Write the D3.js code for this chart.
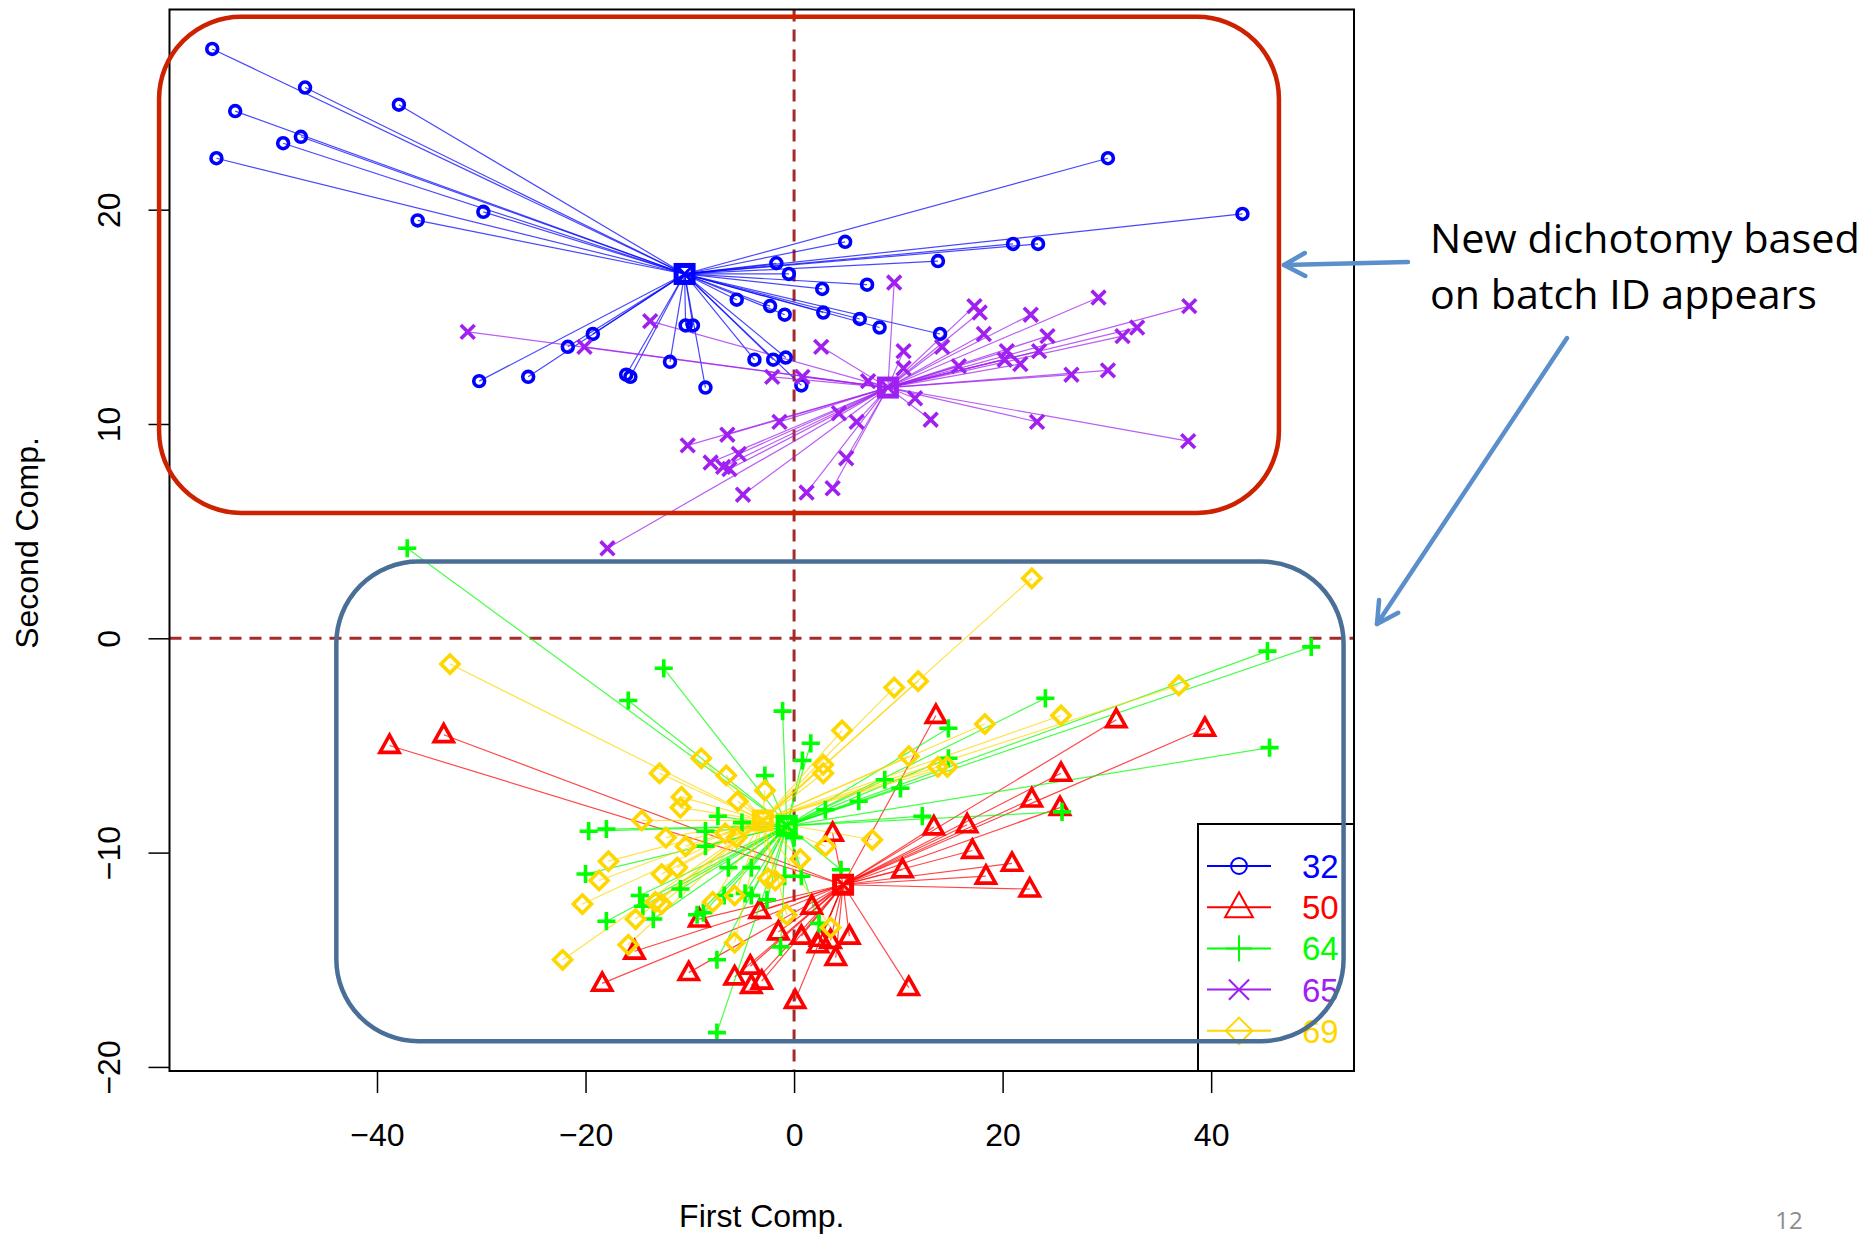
<!DOCTYPE html>
<html>
<head>
<meta charset="utf-8">
<script src="https://cdnjs.cloudflare.com/ajax/libs/d3/7.8.5/d3.min.js"></script>
<style>
  html, body { margin: 0; padding: 0; background: #ffffff; }
  svg { display: block; }
</style>
</head>
<body>
<svg id="chart" width="1872" height="1237"></svg>
<script>
// ---------------- DATA ----------------
const groupNames = ["32", "50", "64", "65", "69"];
const groupColors = ["#0000FF", "#FF0000", "#00FF00", "#A020F0", "#FFD700"];
const groupSymbols = ["circle", "triangle", "plus", "cross", "diamond"];

const xTicks = [-40, -20, 0, 20, 40];
const yTicks = [-20, -10, 0, 10, 20];
const xTitle = "First Comp.";
const yTitle = "Second Comp.";

// group centroids [x, y]
const centroid32 = [-10.5, 17.0];
const centroid50 = [4.7, -11.5];
const centroid64 = [-0.7, -8.75];
const centroid65 = [9.0, 11.7];
const centroid69 = [-3.0, -8.5];

// group members [x, y]
const points32 = [
  [-55.8,27.5],[-46.9,25.7],[-37.9,24.9],[-53.6,24.6],[-47.3,23.4],[-49.0,23.1],[-55.4,22.4],
  [-29.8,19.9],[-36.1,19.5],[-19.3,14.2],[-21.7,13.6],[-30.2,12.0],[-25.5,12.2],[-16.1,12.3],
  [-15.7,12.2],[4.9,18.5],[21.0,18.4],[-1.7,17.5],[13.8,17.6],[-0.5,17.0],[2.7,16.3],[7.0,16.5],
  [-5.5,15.8],[-2.3,15.5],[-0.9,15.1],[2.8,15.2],[6.3,14.9],[8.2,14.5],[14.0,14.2],[-10.4,14.6],
  [-9.7,14.6],[-11.9,12.9],[-8.5,11.7],[-3.8,13.0],[-2.0,13.0],[-0.8,13.1],[0.7,11.8],
  [30.1,22.4],[43.0,19.8],[23.4,18.4]
];
const points50 = [
  [-38.8,-5.0],[-33.6,-4.5],[-9.1,-13.1],[-15.3,-14.6],[-18.4,-16.1],[-10.1,-15.6],[-5.7,-15.8],
  [3.7,-9.1],[13.4,-8.8],[16.6,-8.7],[17.1,-9.9],[10.4,-10.8],[1.7,-12.5],[-3.3,-12.7],[-1.5,-13.7],
  [0.7,-13.9],[2.5,-14.0],[3.5,-14.1],[5.3,-13.9],[2.3,-14.3],[4.0,-14.9],[-4.2,-15.3],[-4.1,-16.2],
  [-3.1,-16.0],[0.1,-16.9],[11.0,-16.3],[13.6,-3.6],[30.9,-3.8],[39.4,-4.2],[25.6,-6.3],[22.8,-7.5],
  [25.5,-7.9],[20.9,-10.5],[18.4,-11.1],[22.6,-11.7]
];
const points64 = [
  [-37.1,4.2],[-12.5,-1.4],[-15.9,-2.9],[-19.7,-9.0],[-18.0,-8.9],[-7.3,-8.3],[-5.0,-8.6],[-8.5,-9.0],
  [-8.5,-9.7],[-20.0,-11.0],[-6.3,-10.7],[-10.9,-11.7],[-14.8,-12.0],[-14.5,-12.5],[-13.5,-13.1],
  [-18.0,-13.2],[-6.7,-12.0],[-4.7,-11.9],[-9.3,-12.9],[-8.7,-12.8],[-7.4,-15.0],[-7.4,-18.4],
  [1.6,-4.9],[0.8,-5.7],[-2.8,-6.4],[14.8,-4.2],[14.8,-5.6],[8.7,-6.6],[10.2,-7.0],[6.2,-7.6],
  [3.0,-8.0],[12.3,-8.3],[0.0,-9.3],[4.5,-10.8],[-0.9,-11.1],[0.7,-11.1],[-4.1,-10.7],[-4.1,-12.0],
  [-2.6,-12.2],[2.4,-13.3],[-1.3,-14.4],[45.4,-0.6],[49.6,-0.4],[24.1,-2.8],[45.6,-5.1],[25.7,-8.1],
  [-1.1,-3.4]
];
const points65 = [
  [-31.3,14.3],[-20.1,13.6],[-13.8,14.8],[9.6,16.6],[17.3,15.5],[17.8,15.2],[18.2,14.2],[2.6,13.6],
  [10.5,13.4],[14.2,13.6],[10.5,12.6],[15.8,12.7],[20.4,13.4],[20.2,13.0],[-2.1,12.2],[0.8,12.2],
  [7.1,12.0],[11.6,11.2],[13.1,10.2],[4.3,10.5],[6.0,10.1],[-1.4,10.1],[-6.4,9.5],[-10.2,9.0],
  [-5.3,8.6],[-8.0,8.2],[-6.8,8.0],[-6.2,7.9],[5.0,8.4],[3.7,7.0],[1.2,6.8],[-4.9,6.7],[-17.9,4.2],
  [22.7,15.1],[29.2,15.9],[37.9,15.5],[24.3,14.1],[32.9,14.5],[31.5,14.1],[23.5,13.4],[21.7,12.8],
  [26.6,12.3],[30.1,12.5],[23.3,10.1],[37.8,9.2]
];
const points69 = [
  [-33.0,-1.2],[-12.9,-6.3],[-8.9,-5.6],[-6.5,-6.4],[-5.4,-7.6],[-10.8,-7.4],[-10.9,-7.9],[-14.6,-8.5],
  [-12.3,-9.3],[-10.4,-9.7],[-6.6,-9.1],[-17.8,-10.4],[-11.2,-10.7],[-18.7,-11.3],[-12.7,-11.0],
  [-20.3,-12.4],[-13.3,-12.3],[-12.7,-12.4],[-15.2,-13.1],[-7.8,-12.3],[-5.7,-12.0],[-15.9,-14.3],
  [-22.2,-15.0],[-5.7,-14.2],[4.6,-4.3],[11.0,-5.5],[2.8,-5.9],[2.8,-6.3],[13.8,-6.0],[14.7,-6.0],
  [-2.8,-7.1],[7.5,-9.4],[3.0,-9.7],[0.6,-10.3],[-2.5,-11.2],[-1.8,-11.3],[-0.7,-12.9],[3.5,-13.5],
  [9.6,-2.3],[11.9,-2.0],[22.8,2.8],[36.9,-2.2],[25.6,-3.6],[18.3,-4.0],[-5.5,-9.3]
];

// highlight boxes in data units: [xmin, xmax, ymin, ymax]
const redBox = [-60.9, 46.5, 5.85, 29.0];
const blueBox = [-43.9, 52.7, -18.8, 3.58];

const noteLines = ["New dichotomy based", "on batch ID appears"];
const pageNumber = "12";

// ---------------- LAYOUT ----------------
const plot = { left: 169.5, right: 1354, top: 9.5, bottom: 1071 };
const svg = d3.select("#chart");
const x = d3.scaleLinear().domain([-59.9, 53.7]).range([plot.left, plot.right]);
const y = d3.scaleLinear().domain([-20.19, 29.34]).range([plot.bottom, plot.top]);
const fmt = d => (d < 0 ? "\u2212" + Math.abs(d) : String(d));
const FONT = "'Liberation Sans', Arial, Helvetica, sans-serif";

const groups = [
  { name: groupNames[0], color: groupColors[0], sym: groupSymbols[0], c: centroid32, pts: points32 },
  { name: groupNames[1], color: groupColors[1], sym: groupSymbols[1], c: centroid50, pts: points50 },
  { name: groupNames[2], color: groupColors[2], sym: groupSymbols[2], c: centroid64, pts: points64 },
  { name: groupNames[3], color: groupColors[3], sym: groupSymbols[3], c: centroid65, pts: points65 },
  { name: groupNames[4], color: groupColors[4], sym: groupSymbols[4], c: centroid69, pts: points69 }
];

function symPath(sym, s) {
  switch (sym) {
    case "triangle": return `M0,${-0.62*s}L${0.58*s},${0.42*s}L${-0.58*s},${0.42*s}Z`;
    case "plus": return `M${-0.55*s},0H${0.55*s}M0,${-0.55*s}V${0.55*s}`;
    case "cross": return `M${-0.42*s},${-0.42*s}L${0.42*s},${0.42*s}M${-0.42*s},${0.42*s}L${0.42*s},${-0.42*s}`;
    case "diamond": return `M0,${-0.55*s}L${0.55*s},0L0,${0.55*s}L${-0.55*s},0Z`;
    default: return null;
  }
}
function drawSymbol(sel, sym, color, s, sw) {
  if (sym === "circle") {
    sel.append("circle").attr("r", 0.33 * s).attr("fill", "none")
      .attr("stroke", color).attr("stroke-width", sw);
  } else {
    sel.append("path").attr("d", symPath(sym, s)).attr("fill", "none")
      .attr("stroke", color).attr("stroke-width", sw).attr("stroke-linejoin", "miter");
  }
}

// clip to plot region
svg.append("defs").append("clipPath").attr("id", "plotclip")
  .append("rect").attr("x", plot.left).attr("y", plot.top)
  .attr("width", plot.right - plot.left).attr("height", plot.bottom - plot.top);

const gPlot = svg.append("g").attr("clip-path", "url(#plotclip)");

// reference dashed lines
gPlot.append("line").attr("x1", x(0)).attr("x2", x(0)).attr("y1", plot.top).attr("y2", plot.bottom)
  .attr("stroke", "#A52A2A").attr("stroke-width", 3).attr("stroke-dasharray", "12,8");
gPlot.append("line").attr("x1", plot.left).attr("x2", plot.right).attr("y1", y(0)).attr("y2", y(0))
  .attr("stroke", "#A52A2A").attr("stroke-width", 3).attr("stroke-dasharray", "12,8");

// star lines + points per group
groups.forEach(g => {
  const gg = gPlot.append("g");
  gg.selectAll("line.star").data(g.pts).enter().append("line")
    .attr("x1", x(g.c[0])).attr("y1", y(g.c[1]))
    .attr("x2", d => x(d[0])).attr("y2", d => y(d[1]))
    .attr("stroke", g.color).attr("stroke-width", 1.2).attr("stroke-opacity", 0.72);
});
groups.forEach(g => {
  const gg = gPlot.append("g");
  gg.selectAll("g.pt").data(g.pts).enter().append("g")
    .attr("transform", d => `translate(${x(d[0])},${y(d[1])})`)
    .each(function () { drawSymbol(d3.select(this), g.sym, g.color, 16.5, 3.6); });
});
// centroids (square with diagonals)
groups.forEach(g => {
  const cg = gPlot.append("g").attr("transform", `translate(${x(g.c[0])},${y(g.c[1])})`);
  const h = 8.5;
  cg.append("rect").attr("x", -h).attr("y", -h).attr("width", 2*h).attr("height", 2*h)
    .attr("fill", "none").attr("stroke", g.color).attr("stroke-width", 5);
  cg.append("path").attr("d", `M${-h},${-h}L${h},${h}M${-h},${h}L${h},${-h}`)
    .attr("stroke", g.color).attr("stroke-width", 3);
});

// frame
svg.append("rect").attr("x", plot.left).attr("y", plot.top)
  .attr("width", plot.right - plot.left).attr("height", plot.bottom - plot.top)
  .attr("fill", "none").attr("stroke", "#000").attr("stroke-width", 2);

// axes
const xAxis = svg.append("g").attr("transform", `translate(0,${plot.bottom})`)
  .call(d3.axisBottom(x).tickValues(xTicks).tickFormat(fmt).tickSize(22).tickPadding(30));
xAxis.select(".domain").remove();
xAxis.selectAll(".tick line").attr("stroke", "#000").attr("stroke-width", 1.5);
xAxis.selectAll(".tick text").attr("font-family", FONT).attr("font-size", 32).attr("fill", "#000");

const yAxis = svg.append("g").attr("transform", `translate(${plot.left},0)`)
  .call(d3.axisLeft(y).tickValues(yTicks).tickFormat(fmt).tickSize(21));
yAxis.select(".domain").remove();
yAxis.selectAll(".tick line").attr("stroke", "#000").attr("stroke-width", 1.5);
yAxis.selectAll(".tick text")
  .attr("x", null).attr("dy", null).attr("y", null)
  .attr("text-anchor", "middle")
  .attr("transform", "translate(-49.5,0) rotate(-90)")
  .attr("font-family", FONT).attr("font-size", 32).attr("fill", "#000");

svg.append("text").attr("x", (plot.left + plot.right) / 2).attr("y", 1227)
  .attr("text-anchor", "middle").attr("font-family", FONT).attr("font-size", 32)
  .text(xTitle);
svg.append("text").attr("transform", "translate(37.5,543) rotate(-90)")
  .attr("text-anchor", "middle").attr("font-family", FONT).attr("font-size", 32)
  .text(yTitle);

// legend
const lg = svg.append("g");
lg.append("rect").attr("x", 1198).attr("y", 824).attr("width", plot.right - 1198)
  .attr("height", plot.bottom - 824).attr("fill", "#fff").attr("stroke", "#000").attr("stroke-width", 2);
groups.forEach((g, i) => {
  const yy = 866 + i * 41.2;
  lg.append("line").attr("x1", 1207).attr("x2", 1271).attr("y1", yy).attr("y2", yy)
    .attr("stroke", g.color).attr("stroke-width", 2);
  const sg = lg.append("g").attr("transform", `translate(1239,${yy})`);
  drawSymbol(sg, g.sym, g.color, 24, 2);
  lg.append("text").attr("x", 1302).attr("y", yy + 12).attr("font-family", FONT)
    .attr("font-size", 33).attr("fill", g.color).text(g.name);
});

// highlight rounded boxes
function roundBox(b, color) {
  svg.append("rect")
    .attr("x", x(b[0])).attr("y", y(b[3]))
    .attr("width", x(b[1]) - x(b[0])).attr("height", y(b[2]) - y(b[3]))
    .attr("rx", 82).attr("ry", 82)
    .attr("fill", "none").attr("stroke", color).attr("stroke-width", 4.5);
}
roundBox(redBox, "#CC2200");
roundBox(blueBox, "#4A6F97");

// annotation text
const NOTEFONT = "'Open Sans', 'Noto Sans', sans-serif";
const t1 = svg.append("text").attr("x", 1430).attr("y", 253).attr("font-family", NOTEFONT)
  .attr("font-size", 41).attr("fill", "#000").text(noteLines[0]);
const t2 = svg.append("text").attr("x", 1430).attr("y", 309).attr("font-family", NOTEFONT)
  .attr("font-size", 41).attr("fill", "#000").text(noteLines[1]);
t1.attr("textLength", 430).attr("lengthAdjust", "spacingAndGlyphs");
t2.attr("textLength", 387).attr("lengthAdjust", "spacingAndGlyphs");

// arrows
function arrow(x1, y1, x2, y2) {
  const col = "#5A8FCB";
  svg.append("line").attr("x1", x1).attr("y1", y1).attr("x2", x2).attr("y2", y2)
    .attr("stroke", col).attr("stroke-width", 4.5).attr("stroke-linecap", "round");
  const ang = Math.atan2(y1 - y2, x1 - x2);
  const L = 24, a = 0.5;
  const p1 = [x2 + L * Math.cos(ang + a), y2 + L * Math.sin(ang + a)];
  const p2 = [x2 + L * Math.cos(ang - a), y2 + L * Math.sin(ang - a)];
  svg.append("path").attr("d", `M${p1[0]},${p1[1]}L${x2},${y2}L${p2[0]},${p2[1]}`)
    .attr("fill", "none").attr("stroke", col).attr("stroke-width", 4.5)
    .attr("stroke-linecap", "round").attr("stroke-linejoin", "round");
}
arrow(1408, 262, 1284, 265);
arrow(1567, 338, 1377, 624);

// page number
svg.append("text").attr("x", 1789).attr("y", 1229).attr("text-anchor", "middle")
  .attr("font-family", "'Open Sans', sans-serif").attr("font-size", 24).attr("fill", "#8C8C8C")
  .text(pageNumber);
</script>
</body>
</html>
